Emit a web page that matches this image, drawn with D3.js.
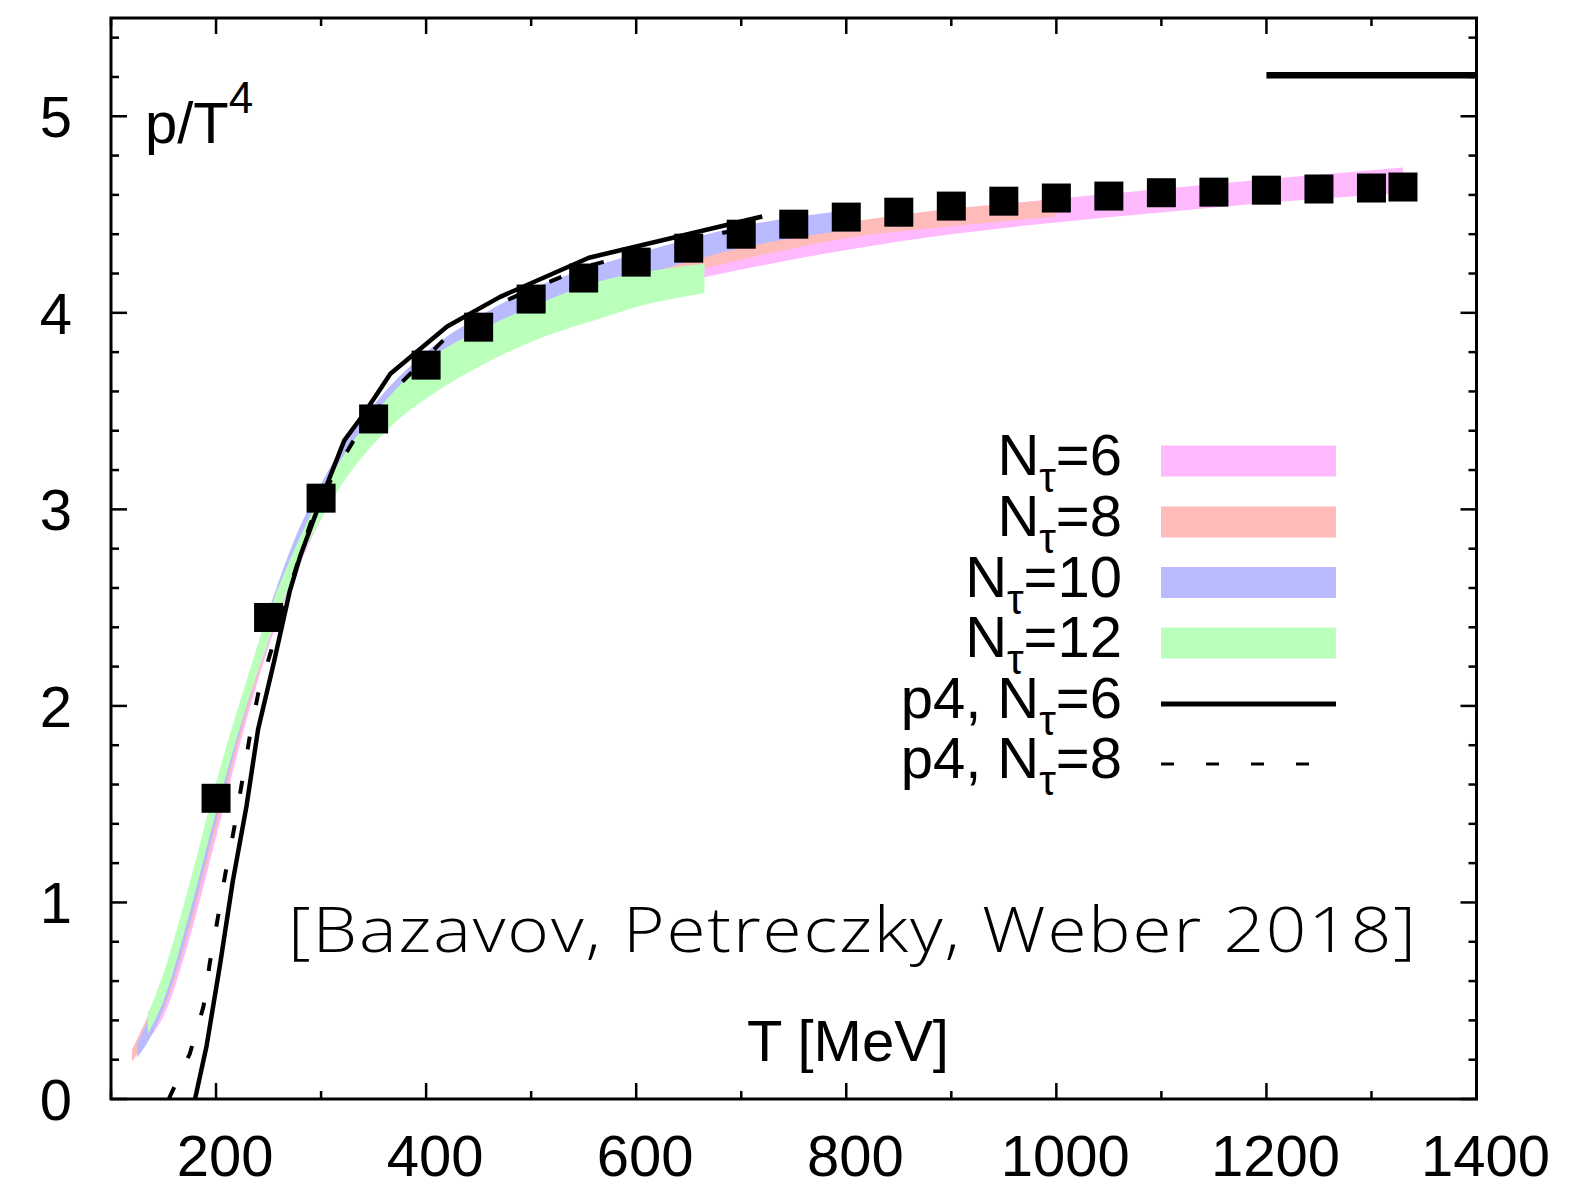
<!DOCTYPE html>
<html>
<head>
<meta charset="utf-8">
<script src="https://cdn.jsdelivr.net/npm/d3@7"></script>
<style>
  body { margin: 0; background: #fff; }
  svg text { font-family: "Liberation Sans", Arial, Helvetica, sans-serif; fill: #000; }
</style>
</head>
<body>
<div id="chart"></div>
<script>
// ---- data ----
// lattice bands (HISQ) : T [MeV], lower and upper edge of p/T^4
const nt6T  = [135, 150, 175, 200, 225, 250, 275, 300, 350, 400, 500, 600, 700, 800, 900, 1000, 1100, 1200, 1330];
const nt6Lo = [0.30, 0.42, 0.82, 1.33, 1.85, 2.30, 2.66, 2.95, 3.35, 3.62, 3.93, 4.10, 4.22, 4.32, 4.40, 4.46, 4.51, 4.56, 4.61];
const nt6Hi = [0.44, 0.58, 0.98, 1.50, 1.98, 2.42, 2.78, 3.06, 3.46, 3.73, 4.05, 4.20, 4.32, 4.43, 4.52, 4.58, 4.63, 4.68, 4.74];

const nt8T  = [120, 135, 150, 175, 200, 225, 250, 275, 300, 350, 400, 500, 600, 700, 800, 900, 1000];
const nt8Lo = [0.19, 0.31, 0.45, 0.86, 1.37, 1.88, 2.33, 2.69, 2.98, 3.38, 3.64, 3.96, 4.14, 4.27, 4.38, 4.44, 4.49];
const nt8Hi = [0.25, 0.42, 0.59, 1.01, 1.53, 2.01, 2.45, 2.81, 3.09, 3.49, 3.76, 4.08, 4.25, 4.37, 4.46, 4.53, 4.575];

const nt10T  = [125, 135, 150, 175, 200, 225, 250, 275, 300, 350, 400, 450, 500, 550, 600, 700, 800];
const nt10Lo = [0.21, 0.29, 0.46, 0.89, 1.41, 1.91, 2.36, 2.72, 3.00, 3.40, 3.66, 3.84, 3.98, 4.09, 4.18, 4.33, 4.42];
const nt10Hi = [0.28, 0.40, 0.61, 1.04, 1.56, 2.04, 2.48, 2.85, 3.13, 3.53, 3.80, 3.98, 4.12, 4.22, 4.30, 4.44, 4.52];

const nt12T  = [135, 150, 175, 200, 225, 250, 280, 313, 366, 410, 455, 518, 565, 600, 665];
const nt12Lo = [0.33, 0.50, 0.95, 1.46, 1.93, 2.33, 2.74, 3.07, 3.42, 3.60, 3.74, 3.89, 3.97, 4.03, 4.10];
const nt12Hi = [0.43, 0.64, 1.10, 1.61, 2.06, 2.47, 2.86, 3.20, 3.58, 3.79, 3.92, 4.07, 4.16, 4.20, 4.25];

// p4 action curves
const p4n6T = [180, 191, 204, 216, 229, 240, 255, 270, 280, 300, 322, 340, 366, 420, 470, 555, 720];
const p4n6P = [0.00, 0.27, 0.69, 1.11, 1.49, 1.88, 2.22, 2.58, 2.76, 3.05, 3.35, 3.48, 3.69, 3.93, 4.08, 4.28, 4.49];
const p4n8T = [155, 175, 188, 194, 202, 209, 217, 225, 232, 240, 253, 270, 290, 312, 331, 361, 385, 420, 455, 500, 555, 650, 720];
const p4n8P = [0.00, 0.23, 0.47, 0.69, 0.93, 1.15, 1.37, 1.62, 1.84, 2.06, 2.29, 2.60, 2.93, 3.18, 3.35, 3.56, 3.69, 3.88, 4.01, 4.12, 4.24, 4.37, 4.45];

// continuum estimate (black squares)
const contT = [200, 250, 300, 350, 400, 450, 500, 550, 600, 650, 700, 750, 800, 850, 900, 950, 1000, 1050, 1100, 1150, 1200, 1250, 1300, 1330];
const contP = [1.53, 2.45, 3.057, 3.46, 3.734, 3.927, 4.07, 4.177, 4.258, 4.329, 4.40, 4.451, 4.487, 4.512, 4.543, 4.568, 4.584, 4.594, 4.611, 4.614, 4.624, 4.63, 4.635, 4.64];

// Stefan-Boltzmann limit
const sbT = [1200, 1400];
const sbP = 5.209;

const xTicks = [200, 400, 600, 800, 1000, 1200, 1400];
const yTicks = [0, 1, 2, 3, 4, 5];

const legendLabels = ["6", "8", "10", "12", "6", "8"];
const bandColors = ["#ffbaff", "#ffbaba", "#babaff", "#baffba"];

// ---- layout ----
const W = 1573, H = 1190;
const pL = 111, pR = 1476.5, pT = 18, pB = 1099;

const svg = d3.select("#chart")
    .append("svg")
    .attr("width", W)
    .attr("height", H);

const x = d3.scaleLinear().domain([100, 1400]).range([pL, pR]);
const y = d3.scaleLinear().domain([0, 5.5]).range([pB, pT]);

svg.append("defs").append("clipPath")
    .attr("id", "plotclip")
    .append("rect")
    .attr("x", pL).attr("y", pT)
    .attr("width", pR - pL).attr("height", pB - pT);

const plot = svg.append("g").attr("clip-path", "url(#plotclip)");

// bands, drawn Nt=6 first, Nt=12 on top
const area = d3.area()
    .x(d => x(d.T))
    .y0(d => y(d.lo))
    .y1(d => y(d.hi))
    .curve(d3.curveMonotoneX);

const bands = [
    [nt6T, nt6Lo, nt6Hi],
    [nt8T, nt8Lo, nt8Hi],
    [nt10T, nt10Lo, nt10Hi],
    [nt12T, nt12Lo, nt12Hi]
];
bands.forEach((b, i) => {
    const pts = b[0].map((t, j) => ({ T: t, lo: b[1][j], hi: b[2][j] }));
    plot.append("path")
        .attr("d", area(pts))
        .attr("fill", bandColors[i]);
});

// p4 lines
const line = d3.line().x(d => x(d[0])).y(d => y(d[1]));

plot.append("path")
    .attr("d", line(p4n8T.map((t, j) => [t, p4n8P[j]])))
    .attr("fill", "none")
    .attr("stroke", "#000")
    .attr("stroke-width", 4)
    .attr("stroke-dasharray", "13,32");

plot.append("path")
    .attr("d", line(p4n6T.map((t, j) => [t, p4n6P[j]])))
    .attr("fill", "none")
    .attr("stroke", "#000")
    .attr("stroke-width", 4.5)
    .attr("stroke-linejoin", "round");

// continuum squares
const sq = 29;
plot.selectAll(".pt")
    .data(contT)
    .enter()
    .append("rect")
    .attr("class", "pt")
    .attr("x", (d, i) => x(d) - sq / 2)
    .attr("y", (d, i) => y(contP[i]) - sq / 2)
    .attr("width", sq)
    .attr("height", sq)
    .attr("fill", "#000");

// SB limit
plot.append("line")
    .attr("x1", x(sbT[0])).attr("x2", x(sbT[1]))
    .attr("y1", y(sbP)).attr("y2", y(sbP))
    .attr("stroke", "#000")
    .attr("stroke-width", 6.5);

// ---- axes: ticks inward on all four sides ----
const axes = svg.append("g");
const xMinor = d3.range(100, 1401, 100);
const yMinor = d3.range(0, 5.5001, 0.2).map(v => +v.toFixed(1));

xMinor.forEach(v => {
    const len = xTicks.includes(v) ? 16 : 8;
    axes.append("line").attr("x1", x(v)).attr("x2", x(v))
        .attr("y1", pB).attr("y2", pB - len)
        .attr("stroke", "#000").attr("stroke-width", 2.5);
    axes.append("line").attr("x1", x(v)).attr("x2", x(v))
        .attr("y1", pT).attr("y2", pT + len)
        .attr("stroke", "#000").attr("stroke-width", 2.5);
});
yMinor.forEach(v => {
    const len = yTicks.includes(v) ? 16 : 8;
    axes.append("line").attr("x1", pL).attr("x2", pL + len)
        .attr("y1", y(v)).attr("y2", y(v))
        .attr("stroke", "#000").attr("stroke-width", 2.5);
    axes.append("line").attr("x1", pR).attr("x2", pR - len)
        .attr("y1", y(v)).attr("y2", y(v))
        .attr("stroke", "#000").attr("stroke-width", 2.5);
});

axes.append("rect")
    .attr("x", pL).attr("y", pT)
    .attr("width", pR - pL).attr("height", pB - pT)
    .attr("fill", "none")
    .attr("stroke", "#000")
    .attr("stroke-width", 3);

// tick labels
svg.selectAll(".xl")
    .data(xTicks)
    .enter()
    .append("text")
    .attr("class", "xl")
    .attr("x", d => x(d) + 9)
    .attr("y", 1176)
    .attr("text-anchor", "middle")
    .style("font-size", "58px")
    .text(d => d);

svg.selectAll(".yl")
    .data(yTicks)
    .enter()
    .append("text")
    .attr("class", "yl")
    .attr("x", 72)
    .attr("y", d => y(d) + 21)
    .attr("text-anchor", "end")
    .style("font-size", "58px")
    .text(d => d);

// axis titles
const yt = svg.append("text")
    .attr("x", 145)
    .attr("y", 143)
    .style("font-size", "58px");
yt.append("tspan").text("p/T");
yt.append("tspan").attr("dy", -30).style("font-size", "44px").text("4");

svg.append("text")
    .attr("x", 848)
    .attr("y", 1061)
    .attr("text-anchor", "middle")
    .style("font-size", "58px")
    .text("T [MeV]");

// citation (light face, stretched a bit wider like the original)
svg.append("text")
    .attr("transform", "translate(288,952) scale(1.13,1)")
    .attr("textLength", 1128 / 1.13)
    .attr("lengthAdjust", "spacing")
    .style("font-size", "63px")
    .style("font-family", "'Open Sans', 'Liberation Sans', sans-serif")
    .style("font-weight", 300)
    .text("[Bazavov, Petreczky, Weber 2018]");

// ---- legend ----
const legX0 = 1161, legX1 = 1336, labX = 1122;
const rowY = [461, 522, 582.5, 643, 704, 764];

legendLabels.forEach((lab, i) => {
    const t = svg.append("text")
        .attr("x", labX)
        .attr("y", rowY[i] + 14)
        .attr("text-anchor", "end")
        .style("font-size", "58px");
    t.append("tspan").text(i >= 4 ? "p4, N" : "N");
    t.append("tspan").attr("dy", 17).style("font-size", "42px").text("τ");
    t.append("tspan").attr("dy", -17).text("=" + lab);

    if (i < 4) {
        svg.append("rect")
            .attr("x", legX0)
            .attr("y", rowY[i] - 15.5)
            .attr("width", legX1 - legX0)
            .attr("height", 31)
            .attr("fill", bandColors[i]);
    } else if (i === 4) {
        svg.append("line")
            .attr("x1", legX0).attr("x2", legX1)
            .attr("y1", rowY[i]).attr("y2", rowY[i])
            .attr("stroke", "#000").attr("stroke-width", 5);
    } else {
        svg.append("line")
            .attr("x1", legX0).attr("x2", 1312)
            .attr("y1", rowY[i]).attr("y2", rowY[i])
            .attr("stroke", "#000").attr("stroke-width", 3)
            .attr("stroke-dasharray", "13,32");
    }
});
</script>
</body>
</html>
